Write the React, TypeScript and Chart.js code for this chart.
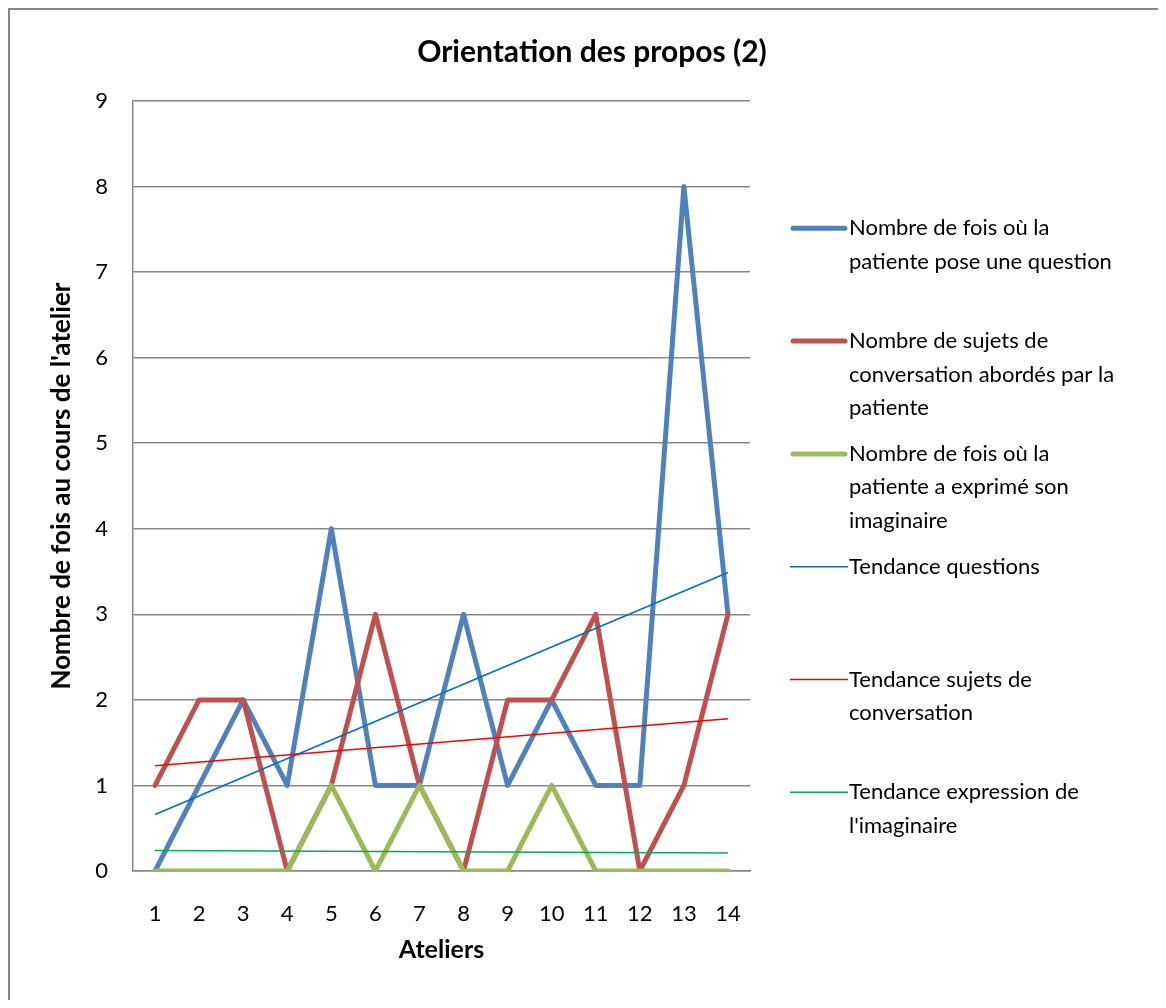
import React, { useEffect, useRef } from "react";
import { Chart, registerables } from "chart.js";

Chart.register(...registerables);

const chartTitle = "Orientation des propos (2)";
const xAxisTitle = "Ateliers";
const yAxisTitle = "Nombre de fois au cours de l'atelier";

const categories = ["1", "2", "3", "4", "5", "6", "7", "8", "9", "10", "11", "12", "13", "14"];
const questions = [0, 1, 2, 1, 4, 1, 1, 3, 1, 2, 1, 1, 8, 3];
const sujets = [1, 2, 2, 0, 1, 3, 1, 0, 2, 2, 3, 0, 1, 3];
const imaginaire = [0, 0, 0, 0, 1, 0, 1, 0, 0, 1, 0, 0, 0, 0];
const trendQuestions = [0.66, null, null, null, null, null, null, null, null, null, null, null, null, 3.49];
const trendSujets = [1.23, null, null, null, null, null, null, null, null, null, null, null, null, 1.78];
const trendImaginaire = [0.24, null, null, null, null, null, null, null, null, null, null, null, null, 0.21];

const yMin = 0;
const yMax = 9;
const yStep = 1;

const seriesLabels = [
  "Nombre de fois où la patiente pose une question",
  "Nombre de sujets de conversation abordés par la patiente",
  "Nombre de fois où la patiente a exprimé son imaginaire",
  "Tendance questions",
  "Tendance sujets de conversation",
  "Tendance expression de l'imaginaire",
];

const legendLines = [
  ["Nombre de fois où la", "patiente pose une question"],
  ["Nombre de sujets de", "conversation abordés par la", "patiente"],
  ["Nombre de fois où la", "patiente a exprimé son", "imaginaire"],
  ["Tendance questions"],
  ["Tendance sujets de", "conversation"],
  ["Tendance expression de", "l'imaginaire"],
];

const FONT = "Lato, 'Open Sans', sans-serif";
const BODY = 22;
const TITLE = 30;
const XTITLE = 25;
const YTITLE = 26;
const GRID = "#878787";

const overlayPlugin = {
  id: "overlay",
  afterDraw(chart: any) {
    const ctx = chart.ctx as CanvasRenderingContext2D;
    ctx.save();
    ctx.fillStyle = "#000";
    ctx.textAlign = "center";
    ctx.textBaseline = "middle";
    ctx.font = `bold ${TITLE}px ${FONT}`;
    ctx.fillText(chartTitle, 582, 42);

    ctx.textAlign = "left";
    ctx.font = `${BODY}px ${FONT}`;
    chart.data.datasets.forEach((ds: any, i: number) => {
      const y0 = 218.3 + i * 112.8;
      ctx.strokeStyle = ds.borderColor;
      ctx.lineWidth = ds.borderWidth;
      ctx.lineCap = ds.borderWidth > 2 ? "round" : "butt";
      ctx.beginPath();
      ctx.moveTo(ds.borderWidth > 2 ? 783 : 780, y0);
      ctx.lineTo(ds.borderWidth > 2 ? 835 : 838, y0);
      ctx.stroke();
      ctx.fillStyle = "#000";
      legendLines[i].forEach((t, j) => ctx.fillText(t, 839, y0 + j * 33.5));
    });
    ctx.restore();
  },
};

export default function App() {
  const ref = useRef<HTMLCanvasElement | null>(null);

  useEffect(() => {
    if (!ref.current) return;
    const thick = (color: string, data: (number | null)[], label: string, order: number) => ({
      label,
      data,
      borderColor: color,
      backgroundColor: color,
      borderWidth: 5,
      pointRadius: 0,
      borderJoinStyle: "round" as const,
      borderCapStyle: "round" as const,
      tension: 0,
      order,
    });
    const thin = (color: string, data: (number | null)[], label: string, order: number) => ({
      label,
      data,
      borderColor: color,
      backgroundColor: color,
      borderWidth: 1.6,
      pointRadius: 0,
      spanGaps: true,
      tension: 0,
      order,
    });
    const chart = new Chart(ref.current, {
      type: "line",
      data: {
        labels: categories,
        datasets: [
          thick("#4F81BD", questions, seriesLabels[0], 6),
          thick("#C0504D", sujets, seriesLabels[1], 5),
          thick("#9BBB59", imaginaire, seriesLabels[2], 4),
          thin("#0070C0", trendQuestions, seriesLabels[3], 3),
          thin("#FF0000", trendSujets, seriesLabels[4], 2),
          thin("#00B050", trendImaginaire, seriesLabels[5], 1),
        ],
      },
      options: {
        responsive: false,
        animation: false,
        devicePixelRatio: 1,
        layout: { padding: { top: 91, right: 408, left: 0, bottom: 0 } },
        plugins: {
          legend: { display: false },
          title: { display: false },
          tooltip: { enabled: false },
        },
        scales: {
          x: {
            type: "category",
            offset: true,
            grid: { display: false, drawTicks: false },
            border: { display: true, color: GRID, width: 1.5 },
            ticks: {
              color: "#000",
              font: { family: FONT, size: BODY },
              padding: 30,
              maxRotation: 0,
              autoSkip: false,
            },
            title: {
              display: true,
              text: xAxisTitle,
              color: "#000",
              font: { family: FONT, size: XTITLE, weight: "bold" },
              padding: { top: 0, bottom: 50 - XTITLE * 0.6 },
            },
            afterFit: (scale: any) => {
              scale.height = 129;
            },
          },
          y: {
            min: yMin,
            max: yMax,
            grid: { color: GRID, lineWidth: 1.5, drawTicks: false },
            border: { display: true, color: GRID, width: 1.5 },
            ticks: {
              stepSize: yStep,
              color: "#000",
              font: { family: FONT, size: BODY },
              padding: 25,
            },
            title: {
              display: true,
              text: yAxisTitle,
              color: "#000",
              font: { family: FONT, size: YTITLE, weight: "bold" },
              padding: { top: 52 - YTITLE * 0.6, bottom: 0 },
            },
            afterFit: (scale: any) => {
              scale.width = 123;
            },
          },
        },
      },
      plugins: [overlayPlugin],
    });
    return () => chart.destroy();
  }, []);

  return (
    <div
      style={{
        position: "relative",
        width: 1148,
        height: 990,
        borderLeft: `2px solid ${GRID}`,
        borderTop: `2px solid ${GRID}`,
      }}
    >
      <canvas ref={ref} width={1148} height={990} style={{ display: "block" }} />
    </div>
  );
}
